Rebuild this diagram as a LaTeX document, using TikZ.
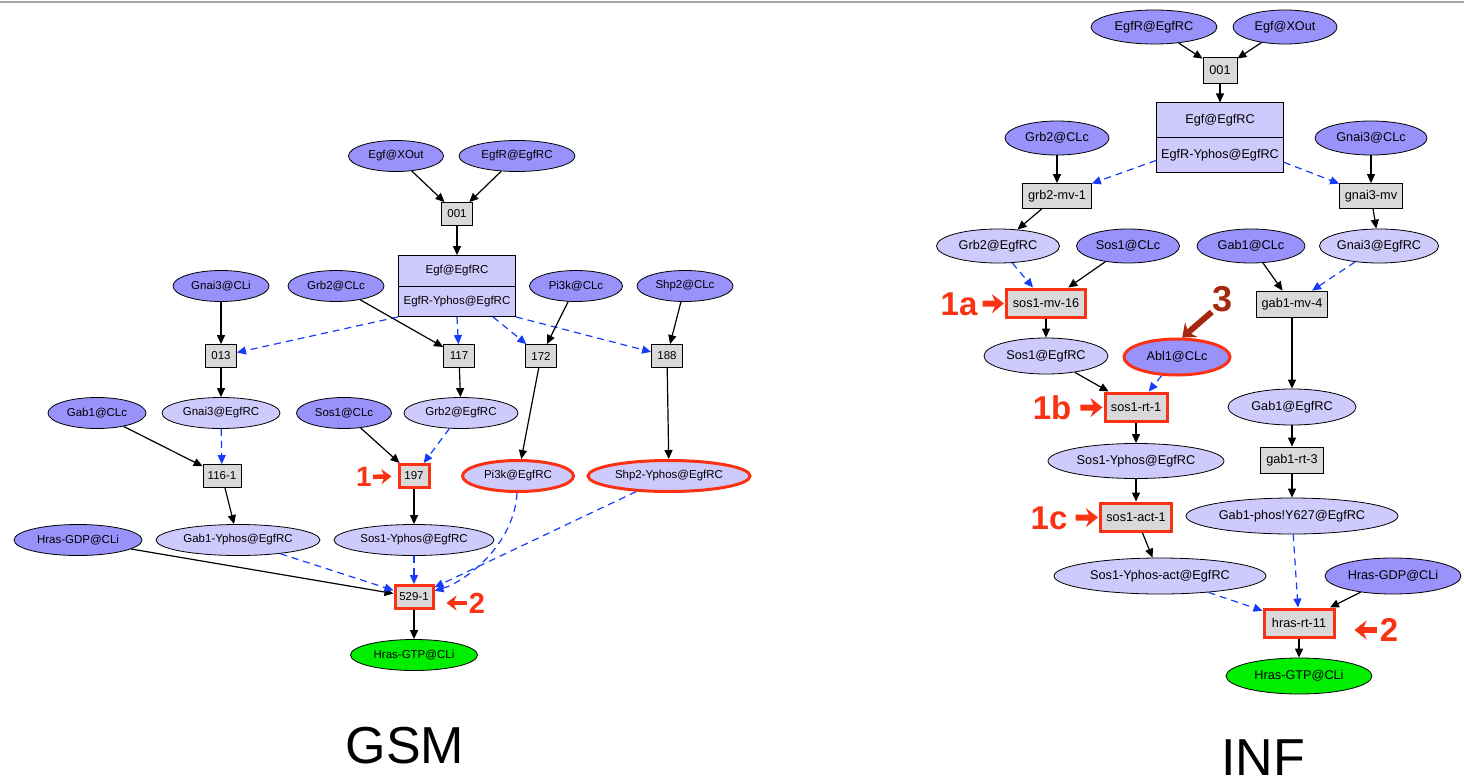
\documentclass[tikz,border=0pt]{standalone}
\usepackage{fontspec}
\setmainfont{Liberation Sans}
\usetikzlibrary{shapes,arrows.meta}

\definecolor{darkfill}{RGB}{152,146,250}
\definecolor{lightfill}{RGB}{207,202,252}
\definecolor{rxngray}{RGB}{217,217,217}
\definecolor{donegreen}{RGB}{0,238,0}
\definecolor{modblue}{RGB}{20,60,250}
\definecolor{hitred}{RGB}{250,50,20}
\definecolor{deepred}{RGB}{165,40,15}

\newcommand{\gsmfont}{\fontsize{11.5}{13}\selectfont}
\newcommand{\inffont}{\fontsize{12.7}{14}\selectfont}

\begin{document}
\begin{tikzpicture}[x=1pt, y=-1pt,
	every node/.style={inner sep=0pt},
	dark/.style={ellipse, draw, line width=0.8pt, fill=darkfill, minimum height=#1},
	dark/.default=31pt,
	light/.style={ellipse, draw, line width=0.8pt, fill=lightfill, minimum height=#1},
	light/.default=31pt,
	done/.style={ellipse, draw, line width=0.8pt, fill=donegreen, minimum height=#1},
	done/.default=31pt,
	rxn/.style={rectangle, draw, line width=0.8pt, fill=rxngray, minimum height=23pt},
	rec/.style={rectangle split, rectangle split parts=2, draw, line width=0.8pt, fill=lightfill},
	hit/.style={draw=hitred, line width=3pt},
	act/.style={-{Triangle[length=9pt,width=8pt]}, line width=1.2pt},
	mod/.style={act, draw=modblue, dash pattern=on 7pt off 5pt},
	callout/.style={draw=hitred, line width=6pt, -{Stealth[length=12pt, width=19pt, inset=4pt]}},
	smallcallout/.style={draw=hitred, line width=4.5pt, -{Stealth[length=10pt, width=15pt, inset=3pt]}},
	tag/.style={text=hitred, font=\bfseries\fontsize{#1}{#1}\selectfont},
	tag/.default=33pt]
	
	\useasboundingbox (0,0) rectangle (1464,779);
	\clip (0,0) rectangle (1464,779);
	
	% top rule
	\draw[black!35, line width=2pt] (0,2) -- (1464,2);
	
	% ---------------- GSM ----------------
	\begin{scope}[every node/.append style={font=\gsmfont}]
	\node[dark, minimum width=95pt] (gEgfX) at (396,156) {Egf@XOut};
	\node[dark, minimum width=116pt] (gEgfR) at (517,156) {EgfR@EgfRC};
	\node[rxn, minimum width=31pt] (g001) at (457,214) {001};
	\node[rec, minimum width=117pt, inner ysep=9.5pt] (gRec) at (457,286) {Egf@EgfRC \nodepart{two} EgfR-Yphos@EgfRC};
	\node[dark, minimum width=96pt] (gGnai3CLi) at (221,286) {Gnai3@CLi};
	\node[dark, minimum width=96pt] (gGrb2CLc) at (336,286) {Grb2@CLc};
	\node[dark, minimum width=93pt] (gPi3kCLc) at (576,286) {Pi3k@CLc};
	\node[dark, minimum width=96pt] (gShp2CLc) at (685,286) {Shp2@CLc};
	\node[rxn, minimum width=31pt] (g013) at (221,356) {013};
	\node[rxn, minimum width=31pt] (g117) at (459,356) {117};
	\node[rxn, minimum width=31pt] (g172) at (541,356) {172};
	\node[rxn, minimum width=31pt] (g188) at (667,356) {188};
	\node[dark, minimum width=98pt] (gGab1CLc) at (97,413) {Gab1@CLc};
	\node[light, minimum width=118pt] (gGnai3EgfRC) at (221,413) {Gnai3@EgfRC};
	\node[dark, minimum width=95pt] (gSos1CLc) at (344,413) {Sos1@CLc};
	\node[light, minimum width=114pt] (gGrb2EgfRC) at (461,413) {Grb2@EgfRC};
	\node[rxn, minimum width=38pt] (g116) at (222,476) {116-1};
	\node[rxn, hit, minimum width=30pt] (g197) at (414,476) {197};
	\node[light, hit, minimum width=111pt] (gPi3kEgfRC) at (518,476) {Pi3k@EgfRC};
	\node[light, hit, minimum width=162pt] (gShp2Y) at (669,476) {Shp2-Yphos@EgfRC};
	\node[dark, minimum width=128pt] (gHrasGDP) at (78,540) {Hras-GDP@CLi};
	\node[light, minimum width=164pt] (gGab1Y) at (238,540) {Gab1-Yphos@EgfRC};
	\node[light, minimum width=160pt] (gSos1Y) at (414,540) {Sos1-Yphos@EgfRC};
	\node[rxn, hit, minimum width=38pt] (g529) at (414,597) {529-1};
	\node[done, minimum width=127pt] (gHrasGTP) at (414,655) {Hras-GTP@CLi};
	\end{scope}
	
	% GSM reactions
	\draw[act] (gEgfX) -- (g001);
	\draw[act] (gEgfR) -- (g001);
	\draw[act] (g001) -- (gRec);
	\draw[mod] (gRec.south west) -- (g013);
	\draw[mod] (gRec.south) -- (g117);
	\draw[mod] ([xshift=36pt]gRec.south) -- (g172);
	\draw[mod] (gRec.south east) -- (g188);
	\draw[act] (gGnai3CLi) -- (g013);
	\draw[act] (gGrb2CLc) -- (g117);
	\draw[act] (gPi3kCLc) -- (g172);
	\draw[act] (gShp2CLc) -- (g188);
	\draw[act] (g013) -- (gGnai3EgfRC);
	\draw[act] (g117) -- (gGrb2EgfRC);
	\draw[act] (g172) -- (gPi3kEgfRC);
	\draw[act] (g188) -- (gShp2Y);
	\draw[act] (gGab1CLc) -- (g116);
	\draw[mod] (gGnai3EgfRC) -- (g116);
	\draw[act] (gSos1CLc) -- (g197);
	\draw[mod] (gGrb2EgfRC) -- (g197);
	\draw[act] (g116) -- (gGab1Y);
	\draw[act] (g197) -- (gSos1Y);
	\draw[act] (gHrasGDP) -- (g529);
	\draw[mod] (gGab1Y) -- (g529);
	\draw[mod] (gSos1Y) -- (g529);
	\draw[mod] (gPi3kEgfRC) .. controls +(-4,70) and +(50,-15) .. (g529);
	\draw[mod] (gShp2Y) -- (g529);
	\draw[act] (g529) -- (gHrasGTP);
	
	% GSM marks
	\node[tag=28pt] (lg1) at (364,477) {1};
	\draw[smallcallout, shorten <=1pt, shorten >=6pt] (lg1) -- (g197);
	\node[tag=29pt] (lg2) at (477,603) {2};
	\draw[smallcallout, shorten <=2pt, shorten >=12pt] (lg2.west) -- (lg2.west -| g529.east);
	
	% ---------------- INF ----------------
	\begin{scope}[every node/.append style={font=\inffont}]
	\node[dark=34pt, minimum width=126pt] (iEgfR) at (1154,27) {EgfR@EgfRC};
	\node[dark=34pt, minimum width=104pt] (iEgfX) at (1285,27) {Egf@XOut};
	\node[rxn, minimum width=34pt, minimum height=26pt] (i001) at (1220,70) {001};
	\node[rec, minimum width=127pt, inner ysep=11pt] (iRec) at (1220,137.5) {Egf@EgfRC \nodepart{two} EgfR-Yphos@EgfRC};
	\node[dark=34pt, minimum width=104pt] (iGrb2CLc) at (1057,138) {Grb2@CLc};
	\node[dark=34pt, minimum width=112pt] (iGnai3CLc) at (1371,138) {Gnai3@CLc};
	\node[rxn, minimum width=69pt, minimum height=25pt] (iGrb2mv) at (1057,196) {grb2-mv-1};
	\node[rxn, minimum width=63pt, minimum height=25pt] (iGnai3mv) at (1371,196) {gnai3-mv};
	\node[light=34pt, minimum width=123pt] (iGrb2EgfRC) at (998,246) {Grb2@EgfRC};
	\node[dark=34pt, minimum width=103pt] (iSos1CLc) at (1128,246) {Sos1@CLc};
	\node[dark=34pt, minimum width=108pt] (iGab1CLc) at (1251,246) {Gab1@CLc};
	\node[light=34pt, minimum width=118pt] (iGnai3EgfRC) at (1379,246) {Gnai3@EgfRC};
	\node[rxn, hit, minimum width=79pt, minimum height=28pt] (iSos1mv) at (1046,303) {sos1-mv-16};
	\node[rxn, minimum width=71pt, minimum height=26pt] (iGab1mv) at (1292,304) {gab1-mv-4};
	\node[light=36pt, minimum width=124pt] (iSos1EgfRC) at (1046,356) {Sos1@EgfRC};
	\node[dark=36pt, hit, minimum width=106pt] (iAbl1) at (1177,357) {Abl1@CLc};
	\node[rxn, hit, minimum width=62pt, minimum height=28pt] (iSos1rt) at (1136,407) {sos1-rt-1};
	\node[light=36pt, minimum width=128pt] (iGab1EgfRC) at (1292,407) {Gab1@EgfRC};
	\node[light=35pt, minimum width=176pt] (iSos1Y) at (1136,461) {Sos1-Yphos@EgfRC};
	\node[rxn, minimum width=63pt, minimum height=26pt] (iGab1rt) at (1292,460) {gab1-rt-3};
	\node[rxn, hit, minimum width=71pt, minimum height=28pt] (iSos1act) at (1136,517) {sos1-act-1};
	\node[light=36pt, minimum width=212pt] (iGab1phos) at (1292,516) {Gab1-phos!Y627@EgfRC};
	\node[light=36pt, minimum width=212pt] (iSos1Yact) at (1160,576) {Sos1-Yphos-act@EgfRC};
	\node[dark=36pt, minimum width=136pt] (iHrasGDP) at (1393,576) {Hras-GDP@CLi};
	\node[rxn, hit, minimum width=70pt, minimum height=28pt] (iHrasrt) at (1299,623) {hras-rt-11};
	\node[done=36pt, minimum width=146pt] (iHrasGTP) at (1299,676) {Hras-GTP@CLi};
	\end{scope}
	
	% INF reactions
	\draw[act] (iEgfR) -- (i001);
	\draw[act] (iEgfX) -- (i001);
	\draw[act] (i001) -- (iRec);
	\draw[mod] (iRec) -- (iGrb2mv);
	\draw[mod] (iRec) -- (iGnai3mv);
	\draw[act] (iGrb2CLc) -- (iGrb2mv);
	\draw[act] (iGnai3CLc) -- (iGnai3mv);
	\draw[act] (iGrb2mv) -- (iGrb2EgfRC);
	\draw[act] (iGnai3mv) -- (iGnai3EgfRC);
	\draw[mod] (iGrb2EgfRC) -- (iSos1mv);
	\draw[act] (iSos1CLc) -- (iSos1mv);
	\draw[act] (iGab1CLc) -- (iGab1mv);
	\draw[mod] (iGnai3EgfRC) -- (iGab1mv);
	\draw[act] (iSos1mv) -- (iSos1EgfRC);
	\draw[act] (iGab1mv) -- (iGab1EgfRC);
	\draw[act] (iSos1EgfRC) -- (iSos1rt);
	\draw[mod] (iAbl1) -- (iSos1rt);
	\draw[act] (iSos1rt) -- (iSos1Y);
	\draw[act] (iSos1Y) -- (iSos1act);
	\draw[act] (iSos1act) -- (iSos1Yact);
	\draw[act] (iGab1EgfRC) -- (iGab1rt);
	\draw[act] (iGab1rt) -- (iGab1phos);
	\draw[mod] (iGab1phos) -- (iHrasrt);
	\draw[mod] (iSos1Yact) -- (iHrasrt);
	\draw[act] (iHrasGDP) -- (iHrasrt);
	\draw[act] (iHrasrt) -- (iHrasGTP);
	
	% INF marks
	\node[tag] (l1a) at (959,304) {1a};
	\draw[callout, shorten <=5pt, shorten >=1pt] (l1a) -- (iSos1mv);
	\node[tag] (l1b) at (1052,408) {1b};
	\draw[callout, shorten <=9pt, shorten >=1pt] (l1b) -- (iSos1rt);
	\node[tag] (l1c) at (1049,518) {1c};
	\draw[callout, shorten <=8pt, shorten >=1pt] (l1c) -- (iSos1act);
	\node[tag] (li2) at (1389,630) {2};
	\draw[callout, shorten <=3pt, shorten >=19pt] (li2.west) -- (li2.west -| iHrasrt.east);
	\node[tag=36pt, text=deepred] (l3) at (1222,299) {3};
	\draw[callout, draw=deepred] (l3.south west) -- (iAbl1.75);
	
	% titles
	\node[anchor=base, font=\fontsize{52}{52}\selectfont] (tGsm) at (405,763) {GSM};
	\node[anchor=base, font=\fontsize{52}{52}\selectfont] (tInf) at (1263,775) {INF};
\end{tikzpicture}
\end{document}
